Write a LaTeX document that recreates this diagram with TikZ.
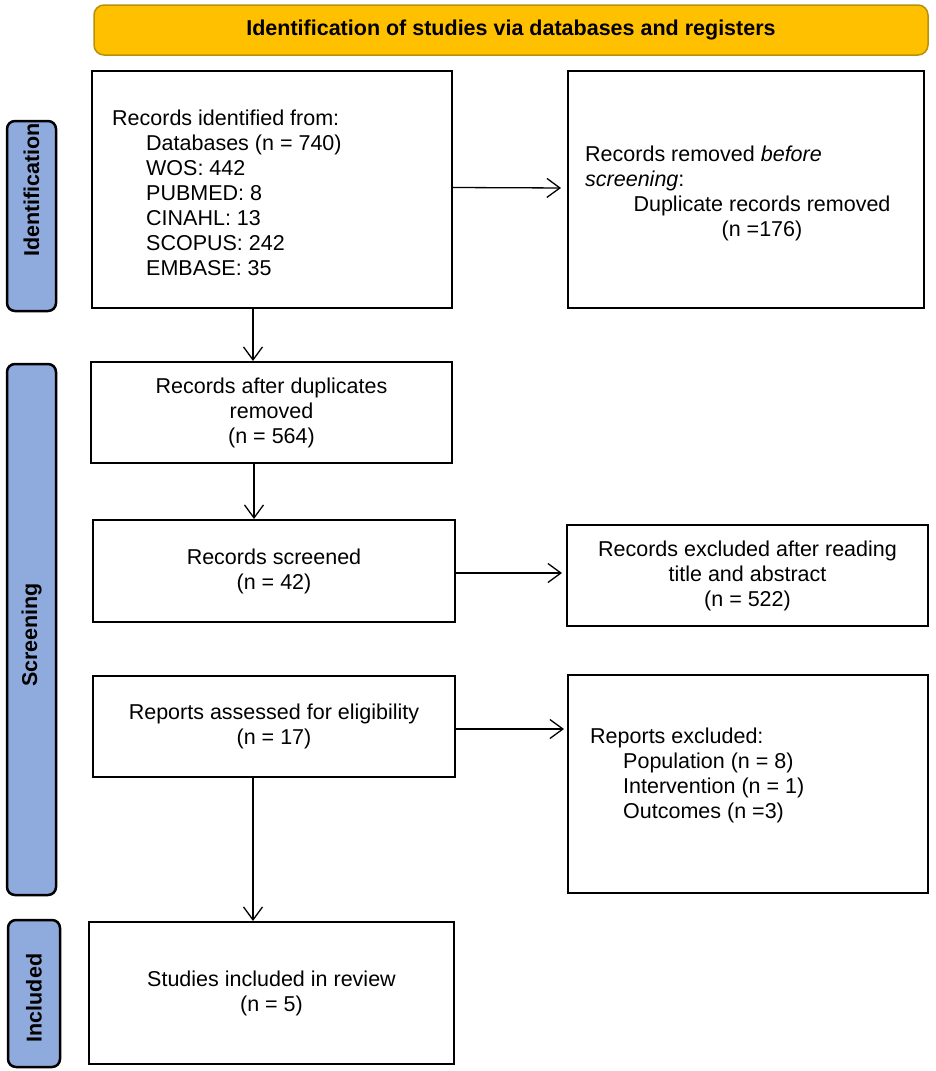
\documentclass[tikz,border=0pt]{standalone}
\usepackage{fontspec}
\setmainfont{Liberation Sans}
\usetikzlibrary{arrows.meta}
\definecolor{bannerfill}{HTML}{FFC000}
\definecolor{bannerdraw}{HTML}{B8900A}
\definecolor{sidefill}{HTML}{8FAADC}
\newcommand\bodyfs{\fontsize{21.5}{25}\selectfont}
\newcommand\headfs{\fontsize{21.5}{25}\selectfont\bfseries}
\begin{document}
\begin{tikzpicture}[x=1pt,y=-1pt,
  box/.style={draw=black, line width=2pt, inner sep=0pt, font=\bodyfs, align=center},
  txt/.style={inner sep=0pt, font=\bodyfs, align=left, anchor=north west},
  side/.style={draw=black, fill=sidefill, line width=2.5pt, rounded corners=8pt, inner sep=0pt},
  sidelbl/.style={font=\headfs, rotate=90, inner sep=0pt},
  banner/.style={draw=bannerdraw, fill=bannerfill, line width=1.5pt, rounded corners=10pt, font=\headfs, inner sep=0pt},
  arr/.style={line width=1.3pt, -{Straight Barb[length=13pt,width=19pt,line width=1.3pt]}}]
\useasboundingbox (0,0) rectangle (935,1071);

% banner
\node[banner, minimum width=834pt, minimum height=50pt] (title) at (511,30) {Identification of studies via databases and registers};

% side bars
\node[side, minimum width=49pt, minimum height=190pt] (s1) at (31.5,216) {};
\node[sidelbl] (l1) at (31.5,190) {Identification};
\node[side, minimum width=49pt, minimum height=531pt] (s2) at (31.5,629.5) {};
\node[sidelbl] (l2) at (31.5,635) {Screening};
\node[side, minimum width=52pt, minimum height=147pt] (s3) at (34,993.5) {};
\node[sidelbl] (l3) at (34,998) {Included};

% boxes
\node[box, minimum width=360pt, minimum height=237pt] (b1) at (272,189.5) {};
\node[txt] (t1) at (112,110) {Records identified from:\\
  \hspace*{34pt}Databases (n = 740)\\
  \hspace*{34pt}WOS: 442\\
  \hspace*{34pt}PUBMED: 8\\
  \hspace*{34pt}CINAHL: 13\\
  \hspace*{34pt}SCOPUS: 242\\
  \hspace*{34pt}EMBASE: 35};

\node[box, minimum width=356pt, minimum height=237pt] (b2) at (746,189.5) {};
\node[txt] (t2a) at (585,146) {Records removed \textit{before}\\ \textit{screening}:};
\node[txt, align=center, anchor=north] (t2b) at (762,196) {Duplicate records removed\\ (n =176)};

\node[box, minimum width=361pt, minimum height=101pt] (b3) at (271.5,412.5) {Records after duplicates\\ removed\\ (n = 564)};
\node[box, minimum width=362pt, minimum height=102pt] (b4) at (274,571) {Records screened\\ (n = 42)};
\node[box, minimum width=361pt, minimum height=101pt] (b5) at (747.5,575.5) {Records excluded after reading\\ title and abstract\\ (n = 522)};
\node[box, minimum width=362pt, minimum height=101pt] (b6) at (274,726.5) {Reports assessed for eligibility\\ (n = 17)};

\node[box, minimum width=360pt, minimum height=218pt] (b7) at (748,784) {};
\node[txt] (t7) at (590,728) {Reports excluded:\\
  \hspace*{33pt}Population (n = 8)\\
  \hspace*{33pt}Intervention (n = 1)\\
  \hspace*{33pt}Outcomes (n =3)};

\node[box, minimum width=365pt, minimum height=142pt] (b8) at (271.5,993) {Studies included in review\\ (n = 5)};

% arrows
\draw[arr, shorten >=6pt] ([yshift=2pt]b1.east) -- ([yshift=1.5pt]b2.west);
\draw[arr] ([xshift=-19pt]b1.south) -- ([xshift=-18.5pt]b3.north);
\draw[arr] ([xshift=-17.5pt]b3.south) -- ([xshift=-20pt]b4.north);
\draw[arr, shorten >=4pt] ([yshift=-2pt]b4.east) -- ([yshift=2.5pt]b5.west);
\draw[arr, shorten >=3pt] ([yshift=-2.5pt]b6.east) -- ([yshift=55pt]b7.west);
\draw[arr] ([xshift=-21pt]b6.south) -- ([xshift=-18.5pt]b8.north);
\end{tikzpicture}
\end{document}
